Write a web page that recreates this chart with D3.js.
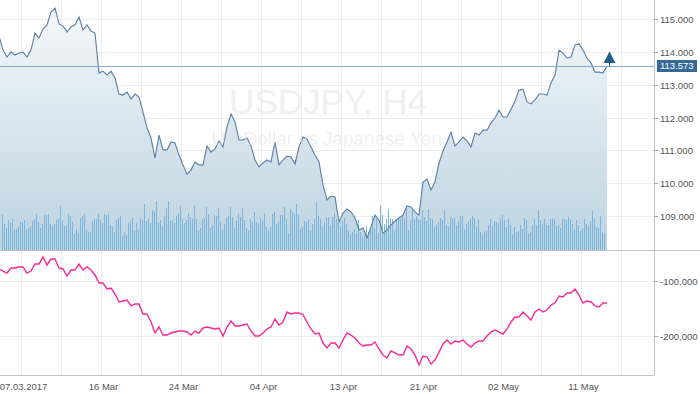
<!DOCTYPE html>
<html>
<head>
<meta charset="utf-8">
<script src="https://cdn.jsdelivr.net/npm/d3@7"></script>
<style>
    html, body { margin: 0; padding: 0; background: #fff; }
    svg { display: block; font-family: "Liberation Sans", Arial, sans-serif; }
</style>
</head>
<body>
<div id="chart"></div>
<script>
// USDJPY H4 - close price area + tick volume + oscillator panel

const symbolTitle = 'USDJPY, H4';
const symbolDesc = 'US Dollar vs Japanese Yen';

// x axis is in bar units (one H4 bar = 2px)
const dateTickBars = [11, 51, 91, 131, 171, 211, 251, 291];
const dateTickLabels = ['07.03.2017', '16 Mar', '24 Mar', '04 Apr', '13 Apr', '21 Apr', '02 May', '11 May'];
const gridBars = [11, 31, 51, 71, 91, 111, 131, 151, 171, 191, 211, 231, 251, 271, 291, 311];

const priceTicks = [109, 110, 111, 112, 113, 114, 115];
const indTicks = [-100000, -200000];
const lastPrice = 113.573;

// close, sampled every 2nd bar
const closePrices = [
    114.49, 114.06, 113.85, 114.00, 113.91, 113.97, 114.00, 113.85, 114.06, 114.58,
    114.43, 114.70, 114.83, 115.22, 115.34, 114.86, 114.80, 114.61, 114.77, 114.83,
    115.07, 114.67, 114.83, 114.64, 114.58, 113.36, 113.42, 113.30, 113.42, 113.21,
    112.72, 112.69, 112.78, 112.57, 112.72, 112.63, 112.17, 111.69, 111.38, 110.77,
    111.47, 111.02, 111.02, 111.26, 111.23, 110.86, 110.56, 110.28, 110.41, 110.65,
    110.56, 110.56, 111.14, 110.95, 111.05, 111.29, 111.11, 111.72, 112.11, 111.87,
    111.32, 111.32, 111.38, 111.14, 110.71, 110.50, 110.62, 110.71, 110.65, 111.26,
    110.56, 110.71, 110.83, 110.80, 110.59, 111.11, 111.41, 111.35, 111.11, 110.86,
    110.65, 109.95, 109.49, 109.61, 109.58, 108.82, 109.09, 109.22, 109.13, 108.94,
    108.58, 108.64, 108.33, 108.67, 109.03, 108.88, 108.48, 108.58, 108.73, 108.85,
    108.94, 109.03, 109.31, 109.28, 109.13, 109.03, 110.04, 110.13, 109.80, 110.04,
    110.62, 110.98, 111.26, 111.56, 111.14, 111.26, 111.41, 111.29, 111.11, 111.53,
    111.47, 111.62, 111.62, 111.84, 111.99, 112.23, 112.02, 112.02, 112.26, 112.51,
    112.84, 112.87, 112.48, 112.42, 112.54, 112.72, 112.72, 112.69, 113.06, 113.30,
    114.06, 113.97, 113.82, 113.85, 114.22, 114.25, 114.06, 113.82, 113.67, 113.39,
    113.39, 113.36, 113.573
];

// lower panel indicator, same sampling
const indicator = [
    -78800, -82500, -86100, -77000, -77000, -75200, -75200, -86100, -82500, -69800,
    -69800, -57100, -71600, -60800, -60800, -77000, -78800, -91500, -80700, -80700,
    -69800, -80700, -75200, -80700, -89700, -104200, -104200, -115000, -113200, -124100,
    -138500, -136700, -134900, -145700, -142100, -142100, -160200, -160200, -174700, -194600,
    -183700, -198200, -198200, -194600, -192800, -191000, -191000, -192800, -198200, -191000,
    -194600, -185500, -183700, -185500, -187300, -185500, -200000, -183700, -172900, -181900,
    -181900, -180100, -178300, -191000, -200000, -200000, -194600, -187300, -183700, -169300,
    -180100, -174700, -156600, -160200, -158400, -158400, -162000, -174700, -187300, -196400,
    -194600, -212700, -221700, -212700, -212700, -221700, -207200, -194600, -198200, -203600,
    -212700, -218100, -216300, -216300, -210800, -223500, -234400, -239800, -227100, -230700,
    -234400, -234400, -218100, -223500, -234400, -252400, -236200, -238000, -250600, -243400,
    -228900, -214500, -207200, -214500, -209000, -210800, -207200, -214500, -219900, -212700,
    -209000, -209000, -200000, -192800, -189100, -192800, -196400, -187300, -174700, -165600,
    -165600, -156600, -163800, -171100, -156600, -151200, -156600, -153000, -143900, -140300,
    -127700, -129500, -122200, -122200, -115000, -125900, -140300, -136700, -138500, -145700,
    -147600, -140300, -140300
];

// tick volume, one per bar
const volumes = [
    7000, 5200, 4500, 6000, 5500, 6300, 4200, 4200, 4600, 5600,
    5600, 6000, 4200, 4400, 4800, 5800, 6200, 7200, 5600, 4400,
    5200, 7000, 7000, 7200, 5200, 4800, 5200, 6000, 6200, 8800,
    6000, 4800, 4800, 7200, 6800, 5600, 3200, 4200, 3400, 6400,
    6800, 7200, 4000, 3600, 3600, 5800, 6200, 6200, 7200, 6000,
    5400, 7200, 7000, 7000, 5000, 4600, 3600, 6000, 6400, 6800,
    2800, 3600, 3000, 5400, 5800, 6400, 3800, 5400, 4200, 6400,
    6000, 9200, 5800, 6200, 5400, 8000, 7800, 9800, 5400, 6000,
    4800, 6800, 8400, 9800, 5800, 6000, 5400, 6800, 7400, 8800,
    6200, 5400, 6000, 7400, 6600, 6200, 8800, 6200, 3800, 4400,
    6200, 6400, 8600, 7200, 4400, 5000, 7000, 6800, 8400, 5600,
    4000, 5200, 6600, 6800, 8600, 6600, 4400, 5800, 7200, 6600,
    8400, 6000, 4400, 3800, 6200, 5600, 7600, 5600, 5200, 6400,
    5800, 7400, 4600, 3800, 4600, 7200, 7600, 5200, 5600, 7000,
    7000, 8600, 6200, 3400, 8200, 7600, 7200, 9200, 7000, 4200,
    4700, 5800, 5700, 6200, 3800, 5300, 6200, 9700, 6900, 6200,
    4700, 5700, 6500, 6700, 5100, 6700, 7500, 6200, 5700, 4700,
    5800, 6500, 5300, 3800, 3100, 3700, 4200, 3300, 6000, 3700,
    2900, 3100, 4900, 3500, 4200, 6900, 4300, 6300, 3300, 9000,
    7100, 5300, 6200, 8200, 6500, 6200, 3800, 6200, 6500, 6200,
    6900, 6200, 8200, 4000, 6000, 8000, 6200, 6900, 6300, 6000,
    8000, 6700, 5800, 8200, 6500, 6300, 4700, 5000, 5700, 6500,
    6000, 8000, 5100, 4700, 6700, 6200, 6500, 5100, 5800, 6900,
    6900, 4200, 5300, 5700, 6200, 6900, 6500, 4700, 6300, 3700,
    3100, 3700, 3800, 5100, 6200, 4900, 5800, 5700, 5500, 6500,
    7000, 6000, 4700, 6300, 5000, 3100, 4700, 3500, 3800, 5000,
    4300, 6500, 6000, 3300, 3700, 5100, 6300, 5100, 8000, 6000,
    5300, 6200, 5100, 5000, 6300, 6500, 6200, 4900, 5100, 4500,
    6300, 6200, 6000, 6700, 6300, 5300, 4300, 6000, 5100, 3800,
    4500, 6200, 5300, 4900, 5800, 7800, 6200, 4700, 4500, 6900,
    3500, 3300
];

const W = 700, H = 394;
const plotRight = 654;
const priceBottom = 250, indBottom = 375;

const svg = d3.select('#chart').append('svg')
    .attr('width', W)
    .attr('height', H);

const x = d3.scaleLinear().domain([0, 304]).range([-1, 607]);
const yPrice = d3.scaleLinear().domain([107.966, 115.588]).range([priceBottom, 0]);
const yVol = d3.scaleLinear().domain([0, 50000]).range([priceBottom, 0]);
const yInd = d3.scaleLinear().domain([-270524, -44485]).range([indBottom, priceBottom]);

// rounded copies so grid lines land on whole pixels
const gridPrice = yPrice.copy().interpolate(d3.interpolateRound);
const gridInd = yInd.copy().interpolate(d3.interpolateRound);
const gridX = x.copy().interpolate(d3.interpolateRound);

const axisColor = '#c3c3c3';
const gridColor = '#ececec';
const labelColor = '#555';
const fontSize = '9.5px';

// gradient for the price area
const defs = svg.append('defs');
const grad = defs.append('linearGradient')
    .attr('id', 'priceFill')
    .attr('gradientUnits', 'userSpaceOnUse')
    .attr('x1', 0).attr('y1', 0).attr('x2', 0).attr('y2', priceBottom);
grad.append('stop').attr('offset', 0).attr('stop-color', '#f6f9fb');
grad.append('stop').attr('offset', 1).attr('stop-color', '#bcd3e1');

defs.append('clipPath').attr('id', 'clipTop')
    .append('rect').attr('x', 0).attr('y', 0).attr('width', plotRight).attr('height', priceBottom);
defs.append('clipPath').attr('id', 'clipBot')
    .append('rect').attr('x', 0).attr('y', priceBottom).attr('width', plotRight).attr('height', indBottom - priceBottom);

// grid - vertical
svg.append('g')
    .attr('transform', `translate(0,${indBottom})`)
    .call(d3.axisBottom(gridX).tickValues(gridBars).tickSize(-indBottom).tickFormat(''))
    .call(g => g.select('.domain').remove())
    .call(g => g.selectAll('line').attr('stroke', gridColor));

// grid - horizontal
svg.append('g')
    .attr('transform', `translate(${plotRight},0)`)
    .call(d3.axisLeft(gridPrice).tickValues(priceTicks).tickSize(plotRight).tickFormat(''))
    .call(g => g.select('.domain').remove())
    .call(g => g.selectAll('line').attr('stroke', gridColor));
svg.append('g')
    .attr('transform', `translate(${plotRight},0)`)
    .call(d3.axisLeft(gridInd).tickValues(indTicks).tickSize(plotRight).tickFormat(''))
    .call(g => g.select('.domain').remove())
    .call(g => g.selectAll('line').attr('stroke', gridColor));

// watermark
svg.append('text')
    .attr('x', 328).attr('y', 114)
    .attr('text-anchor', 'middle')
    .style('font-size', '35px')
    .style('fill', '#e6e6e6')
    .style('fill-opacity', 0.6)
    .text(symbolTitle);

// price area + line
const pricePanel = svg.append('g').attr('clip-path', 'url(#clipTop)');

const area = d3.area()
    .x((d, i) => x(i * 2))
    .y0(priceBottom)
    .y1(d => yPrice(d));

const line = d3.line()
    .x((d, i) => x(i * 2))
    .y(d => yPrice(d));

pricePanel.append('path')
    .datum(closePrices)
    .attr('fill', 'url(#priceFill)')
    .attr('d', area);

// volume bars
pricePanel.append('g')
    .selectAll('rect')
    .data(volumes)
    .join('rect')
    .attr('x', (d, i) => Math.round(x(i + 1.5)))
    .attr('y', d => Math.round(yVol(d)))
    .attr('width', 1)
    .attr('height', d => priceBottom - Math.round(yVol(d)))
    .attr('fill', '#7cb5da');

pricePanel.append('path')
    .datum(closePrices)
    .attr('fill', 'none')
    .attr('stroke', '#5a7ea6')
    .attr('stroke-width', 1.1)
    .attr('d', line);

svg.append('text')
    .attr('x', 327).attr('y', 145)
    .attr('text-anchor', 'middle')
    .style('font-size', '19px')
    .style('fill', '#e4e4e4')
    .style('fill-opacity', 0.55)
    .text(symbolDesc);

// current price level
const lastY = gridPrice(lastPrice) + 0.5;
svg.append('line')
    .attr('x1', 0).attr('x2', plotRight)
    .attr('y1', lastY).attr('y2', lastY)
    .attr('stroke', '#8ea8c8')
    .attr('stroke-width', 1);

// arrow marker at last bar
const ax = x(closePrices.length * 2 - 2) + 2.5;
svg.append('line')
    .attr('x1', ax).attr('x2', ax)
    .attr('y1', lastY - 4).attr('y2', lastY)
    .attr('stroke', '#1f5f8b');
svg.append('path')
    .attr('d', `M${ax},${lastY - 15}L${ax + 6},${lastY - 3.5}L${ax - 6},${lastY - 3.5}Z`)
    .attr('fill', '#1f5f8b');

// indicator line
svg.append('g').attr('clip-path', 'url(#clipBot)')
    .append('path')
    .datum(indicator)
    .attr('fill', 'none')
    .attr('stroke', '#f72a92')
    .attr('stroke-width', 1.4)
    .attr('d', d3.line().x((d, i) => x(i * 2)).y(d => yInd(d)));

// frame lines
svg.append('line')
    .attr('x1', 0).attr('x2', W)
    .attr('y1', priceBottom + 0.5).attr('y2', priceBottom + 0.5)
    .attr('stroke', axisColor);
svg.append('line')
    .attr('x1', 0).attr('x2', plotRight + 0.5)
    .attr('y1', indBottom + 0.5).attr('y2', indBottom + 0.5)
    .attr('stroke', axisColor);
svg.append('line')
    .attr('x1', plotRight + 0.5).attr('x2', plotRight + 0.5)
    .attr('y1', 0).attr('y2', indBottom + 0.5)
    .attr('stroke', axisColor);

// right axes
const fmtInd = v => d3.format(',')(v).replace('\u2212', '-');

svg.append('g')
    .attr('transform', `translate(${plotRight},0)`)
    .call(d3.axisRight(gridPrice).tickValues(priceTicks).tickSize(4).tickPadding(2).tickFormat(d3.format('.3f')))
    .call(g => g.select('.domain').remove())
    .call(g => g.selectAll('line').attr('stroke', '#aaa'))
    .call(g => g.selectAll('text').style('font-size', fontSize).style('fill', labelColor).style('font-family', 'inherit'));

svg.append('g')
    .attr('transform', `translate(${plotRight},0)`)
    .call(d3.axisRight(gridInd).tickValues(indTicks).tickSize(4).tickPadding(2).tickFormat(fmtInd))
    .call(g => g.select('.domain').remove())
    .call(g => g.selectAll('line').attr('stroke', '#aaa'))
    .call(g => g.selectAll('text').style('font-size', fontSize).style('fill', labelColor).style('font-family', 'inherit'));

// last price label
const tag = svg.append('g').attr('transform', `translate(${plotRight + 3},${Math.round(lastY - 6.5)})`);
tag.append('rect')
    .attr('width', 40).attr('height', 12)
    .attr('fill', '#386a99');
tag.append('text')
    .attr('x', 3).attr('y', 6)
    .attr('dy', '0.35em')
    .style('font-size', fontSize)
    .style('fill', '#fff')
    .text(d3.format('.3f')(lastPrice));

// date labels
svg.append('g')
    .attr('transform', `translate(0,${indBottom})`)
    .call(d3.axisBottom(gridX).tickValues(dateTickBars).tickSize(0).tickPadding(8)
        .tickFormat((d, i) => dateTickLabels[i]))
    .call(g => g.select('.domain').remove())
    .call(g => g.selectAll('text')
        .attr('dx', 2)
        .style('font-size', fontSize)
        .style('fill', labelColor)
        .style('font-family', 'inherit'));
</script>
</body>
</html>
